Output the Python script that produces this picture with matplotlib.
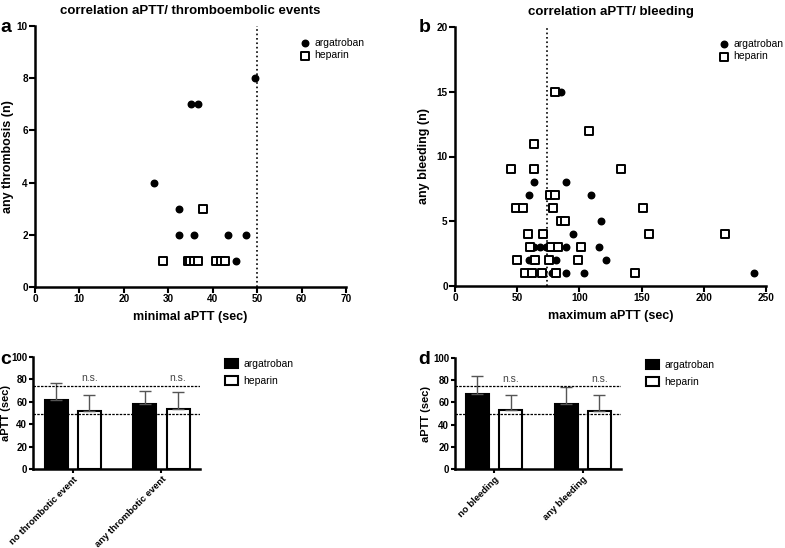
import matplotlib
matplotlib.use("Agg")
import matplotlib.pyplot as plt
import numpy as np

plt.rcParams['font.family'] = ['Liberation Sans', 'DejaVu Sans']

# ---------------- data ----------------
# panel a: minimal aPTT vs thrombosis count
a_arg_x = [26.8, 32.5, 32.3, 35.8, 43.4, 47.5, 45.3, 35.0, 36.8, 49.6]
a_arg_y = [4, 3, 2, 2, 2, 2, 1, 7, 7, 8]
a_hep_x = [28.8, 34.4, 34.9, 35.9, 36.8, 40.7, 41.9, 42.8, 37.8]
a_hep_y = [1, 1, 1, 1, 1, 1, 1, 1, 3]
a_ref = 50

# panel b: maximum aPTT vs bleeding count
b_arg_x = [85, 63.4, 89.4, 59.1, 109.6, 117, 94.7,
           63.4, 68.1, 73.4, 75.3, 77.9, 89.4, 115.4,
           59.6, 63.4, 81.4, 121.3,
           59.1, 70.8, 78.3, 80.1, 89.4, 103.5, 240]
b_arg_y = [15, 8, 8, 7, 7, 5, 4,
           3, 3, 3, 3, 3, 3, 3,
           2, 2, 2, 2,
           1, 1, 1, 1, 1, 1, 1]
b_hep_x = [80, 107.4, 63.6, 45, 63.6, 133.5, 76.6, 80.3,
           49.2, 54.6, 78.5, 150.8, 84.9, 88.3, 58.3, 70.8, 156, 217,
           59.9, 77, 82.5, 101.6, 49.5, 64.4, 75.6, 99.2,
           56.2, 61.5, 70, 81.4, 145]
b_hep_y = [15, 12, 11, 9, 9, 9, 7, 7,
           6, 6, 6, 6, 5, 5, 4, 4, 4, 4,
           3, 3, 3, 3, 2, 2, 2, 2,
           1, 1, 1, 1, 1]
b_ref = 74

# panel c: thrombotic events
c_cats = ['no thrombotic event', 'any thrombotic event']
c_arg = [61.5, 58]
c_arg_err = [15.5, 11.5]
c_hep = [51.5, 54]
c_hep_err = [14.5, 15]

# panel d: bleeding
d_cats = ['no bleeding', 'any bleeding']
d_arg = [68, 59]
d_arg_err = [16, 14.5]
d_hep = [53, 52]
d_hep_err = [13.5, 15]

ref_lines = [74.5, 49.5]

# ---------------- figure ----------------
W, H = 785, 548
fig = plt.figure(figsize=(W / 100, H / 100), dpi=100)


def px_axes(l, t, r, b):
    return fig.add_axes([l / W, 1 - b / H, (r - l) / W, (b - t) / H])


def style(ax, ticklen=4):
    for s in ['top', 'right']:
        ax.spines[s].set_visible(False)
    for s in ['left', 'bottom']:
        ax.spines[s].set_linewidth(1.8)
    ax.tick_params(width=1.5, length=ticklen, labelsize=7.2, direction='out', pad=1.2)
    for lab in ax.get_xticklabels() + ax.get_yticklabels():
        lab.set_fontweight('bold')


def legend_scatter(ax, x):
    ax.legend(loc='upper left', bbox_to_anchor=(x, 0.955), frameon=False,
              fontsize=7.5, handletextpad=0.4, labelspacing=0.25,
              handlelength=1.0, borderpad=0.0, borderaxespad=0.0)


# panel a
axa = px_axes(35, 26, 346, 287)
axa.scatter(a_arg_x, a_arg_y, s=22, c='black', marker='o', label='argatroban', zorder=3)
axa.scatter(a_hep_x, a_hep_y, s=26, facecolors='white', edgecolors='black',
            linewidths=1.4, marker='s', label='heparin', zorder=3)
axa.axvline(a_ref, color='black', linestyle=':', linewidth=1.2)
axa.set_xlim(0, 70)
axa.set_ylim(0, 10)
axa.set_xticks(np.arange(0, 71, 10))
axa.set_yticks(np.arange(0, 11, 2))
style(axa)
axa.set_xlabel('minimal aPTT (sec)', fontsize=9, fontweight='bold', labelpad=5)
axa.set_ylabel('any thrombosis (n)', fontsize=9, fontweight='bold')
axa.yaxis.set_label_coords((14 - 35) / 311, 0.5)
axa.set_title('correlation aPTT/ thromboembolic events', fontsize=9.5,
              fontweight='bold', pad=9)
legend_scatter(axa, (300 - 35) / 311)

# panel b
axb = px_axes(455, 27, 766, 286)
axb.scatter(b_arg_x, b_arg_y, s=22, c='black', marker='o', label='argatroban', zorder=3)
axb.scatter(b_hep_x, b_hep_y, s=26, facecolors='white', edgecolors='black',
            linewidths=1.4, marker='s', label='heparin', zorder=3)
axb.axvline(b_ref, color='black', linestyle=':', linewidth=1.2)
axb.set_xlim(0, 250)
axb.set_ylim(0, 20)
axb.set_xticks(np.arange(0, 251, 50))
axb.set_yticks(np.arange(0, 21, 5))
style(axb)
axb.set_xlabel('maximum aPTT (sec)', fontsize=9, fontweight='bold', labelpad=5)
axb.set_ylabel('any bleeding (n)', fontsize=9, fontweight='bold')
axb.yaxis.set_label_coords((430 - 455) / 311, 0.5)
axb.set_title('correlation aPTT/ bleeding', fontsize=9.5, fontweight='bold', pad=9)
legend_scatter(axb, (719 - 455) / 311)


def bar_panel(ax, cats, arg, arg_err, hep, hep_err, xlim, ylab_x):
    g = np.arange(len(cats))
    off = 0.187
    w = 0.26
    ax.bar(g - off, arg, w, color='black', edgecolor='black', linewidth=1.5,
           label='argatroban', zorder=2)
    ax.bar(g + off, hep, w, color='white', edgecolor='black', linewidth=1.5,
           label='heparin', zorder=2)
    ax.errorbar(g - off, arg, yerr=[np.zeros(len(arg)), arg_err], fmt='none',
                ecolor='#555555', elinewidth=1.0, capsize=4, capthick=1.0, zorder=3)
    ax.errorbar(g + off, hep, yerr=[np.zeros(len(hep)), hep_err], fmt='none',
                ecolor='#555555', elinewidth=1.0, capsize=4, capthick=1.0, zorder=3)
    for r in ref_lines:
        ax.axhline(r, color='black', linestyle=(0, (2, 1)), linewidth=0.9, zorder=4)
    for x in g + off:
        ax.text(x, 77, 'n.s.', ha='center', va='bottom', fontsize=7.5, color='#444444')
    ax.set_xlim(*xlim)
    ax.set_ylim(0, 100)
    ax.set_yticks(np.arange(0, 101, 20))
    ax.set_xticks(g)
    ax.set_xticklabels(cats, rotation=45, ha='right', rotation_mode='anchor')
    style(ax, ticklen=3)
    ax.tick_params(axis='y', labelsize=7)
    for lab in ax.get_xticklabels():
        lab.set_fontsize(6.8)
    ax.set_ylabel('aPTT (sec)', fontsize=8, fontweight='bold')
    ax.yaxis.set_label_coords(ylab_x, 0.5)
    ax.legend(loc='upper left', bbox_to_anchor=(1.15, 0.98), frameon=False,
              fontsize=7.5, handlelength=1.25, handleheight=0.85, handletextpad=0.5,
              labelspacing=0.65, borderpad=0.0, borderaxespad=0.0)


axc = px_axes(33, 357, 200, 469)
bar_panel(axc, c_cats, c_arg, c_arg_err, c_hep, c_hep_err, (-0.45, 1.435),
          (11 - 33) / 167)

axd = px_axes(455, 358, 621, 469)
bar_panel(axd, d_cats, d_arg, d_arg_err, d_hep, d_hep_err, (-0.44, 1.43),
          (431 - 455) / 166)

# panel letters
for txt, x, y in [('a', 0, 32), ('b', 419, 32), ('c', 0, 364), ('d', 418, 364)]:
    fig.text(x / W, 1 - y / H, txt, fontsize=14, fontweight='bold',
             ha='left', va='baseline')

fig.savefig('out.png', dpi=100, facecolor='white')
